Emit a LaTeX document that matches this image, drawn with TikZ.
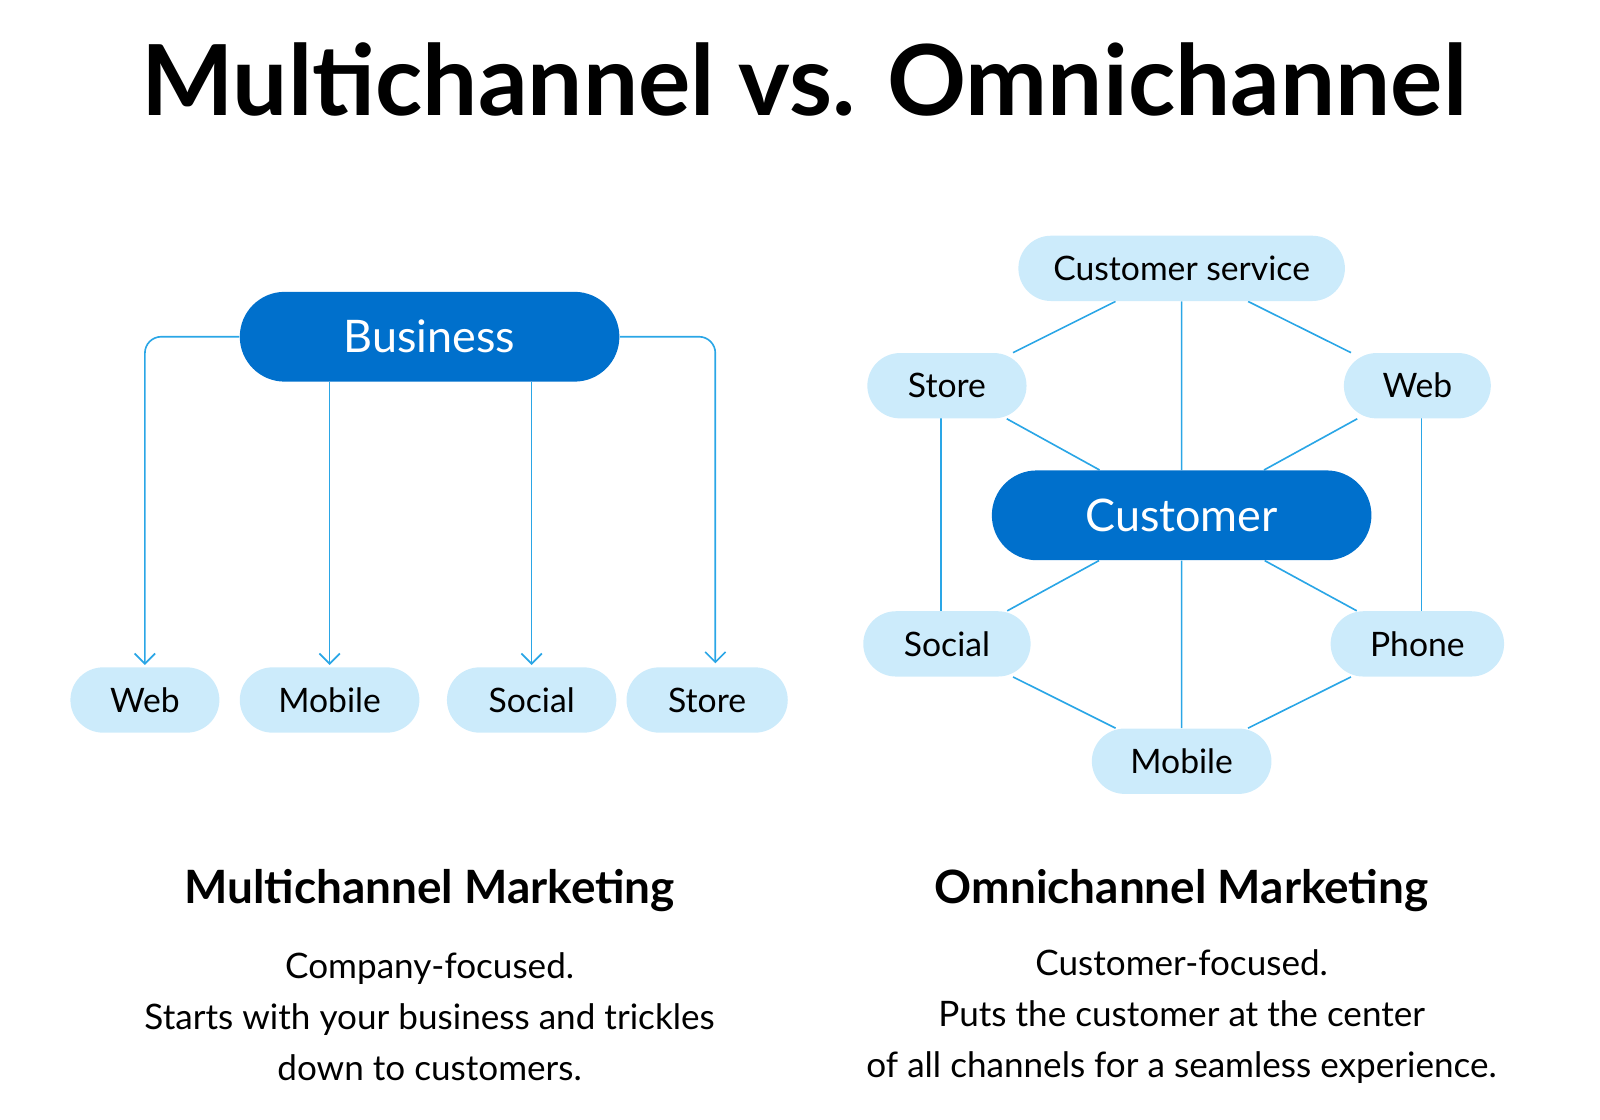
\documentclass[tikz,border=0pt]{standalone}
\usepackage{fontspec}
\setmainfont{Lato}
\usetikzlibrary{arrows.meta}
\pgfdeclarelayer{bg}\pgfsetlayers{bg,main}
\definecolor{dark}{HTML}{0070CC}
\definecolor{light}{HTML}{CCEBFB}
\definecolor{ln}{HTML}{2AA6E6}
\begin{document}
\begin{tikzpicture}[x=0.5pt,y=-0.5pt,
  big/.style={fill=dark,text=white,rounded corners=22pt,minimum height=44pt,font=\fontsize{22}{26}\selectfont,inner sep=0pt},
  pill/.style={fill=light,text=black,rounded corners=16pt,minimum height=32pt,font=\fontsize{16.5}{20}\selectfont,inner sep=0pt},
  con/.style={draw=ln,line width=0.8pt},
  arr/.style={con,-{Straight Barb[length=5pt,width=10pt]}},
  sub/.style={font=\bfseries\fontsize{22.5}{28}\selectfont},
  body/.style={font=\fontsize{17.2}{25}\selectfont,align=center}]
\node[font=\bfseries\fontsize{48}{58}\selectfont] (title) at (788,78) {Multichannel vs. Omnichannel};
% left
\node[big,minimum width=186pt] (bus) at (421,330) {Business};
\node[pill,minimum width=73pt] (lweb) at (142,686) {Web};
\node[pill,minimum width=88pt] (lmob) at (323,686) {Mobile};
\node[pill,minimum width=83pt] (lsoc) at (521,686) {Social};
\node[pill,minimum width=79pt] (lsto) at (693,686) {Store};
\coordinate (ta) at (701,650);
\draw[arr,rounded corners=8pt] (bus.west) -| ([yshift=1pt]lweb.north);
\draw[arr] (bus.south -| lmob) -- ([yshift=1pt]lmob.north);
\draw[arr] (bus.south -| lsoc) -- ([yshift=1pt]lsoc.north);
\draw[arr,rounded corners=8pt] (bus.east) -| (ta);
\node[sub] (h1) at (421,873) {Multichannel Marketing};
\node[body] (t1) at (421,996) {Company-focused.\\Starts with your business and trickles\\down to customers.};
% right
\node[pill,minimum width=160pt] (cs) at (1158,263) {Customer service};
\node[pill,minimum width=78pt] (sto) at (928,378) {Store};
\node[pill,minimum width=72pt] (web) at (1389,378) {Web};
\node[big,minimum width=186pt] (cus) at (1158,505) {Customer};
\node[pill,minimum width=82pt] (soc) at (928,631) {Social};
\node[pill,minimum width=85pt] (pho) at (1389,631) {Phone};
\node[pill,minimum width=88pt] (mob) at (1158,746) {Mobile};
\begin{pgfonlayer}{bg}
\draw[con] (cs) -- (sto) (cs) -- (web) (cs) -- (cus) (sto) -- (cus) (web) -- (cus)
  (cus) -- (soc) (cus) -- (pho) (cus) -- (mob) (soc) -- (mob) (pho) -- (mob);
\draw[con] ([xshift=-3pt]sto.center) -- ([xshift=-3pt]soc.center);
\draw[con] ([xshift=2pt]web.center) -- ([xshift=2pt]pho.center);
\end{pgfonlayer}
\node[sub] (h2) at (1158,873) {Omnichannel Marketing};
\node[body] (t2) at (1158,996) {Customer-focused.\\Puts the customer at the center\\of all channels for a seamless experience.};
\pgfresetboundingbox
\path[use as bounding box] (0,0) rectangle (1568,1097);
\end{tikzpicture}
\end{document}
